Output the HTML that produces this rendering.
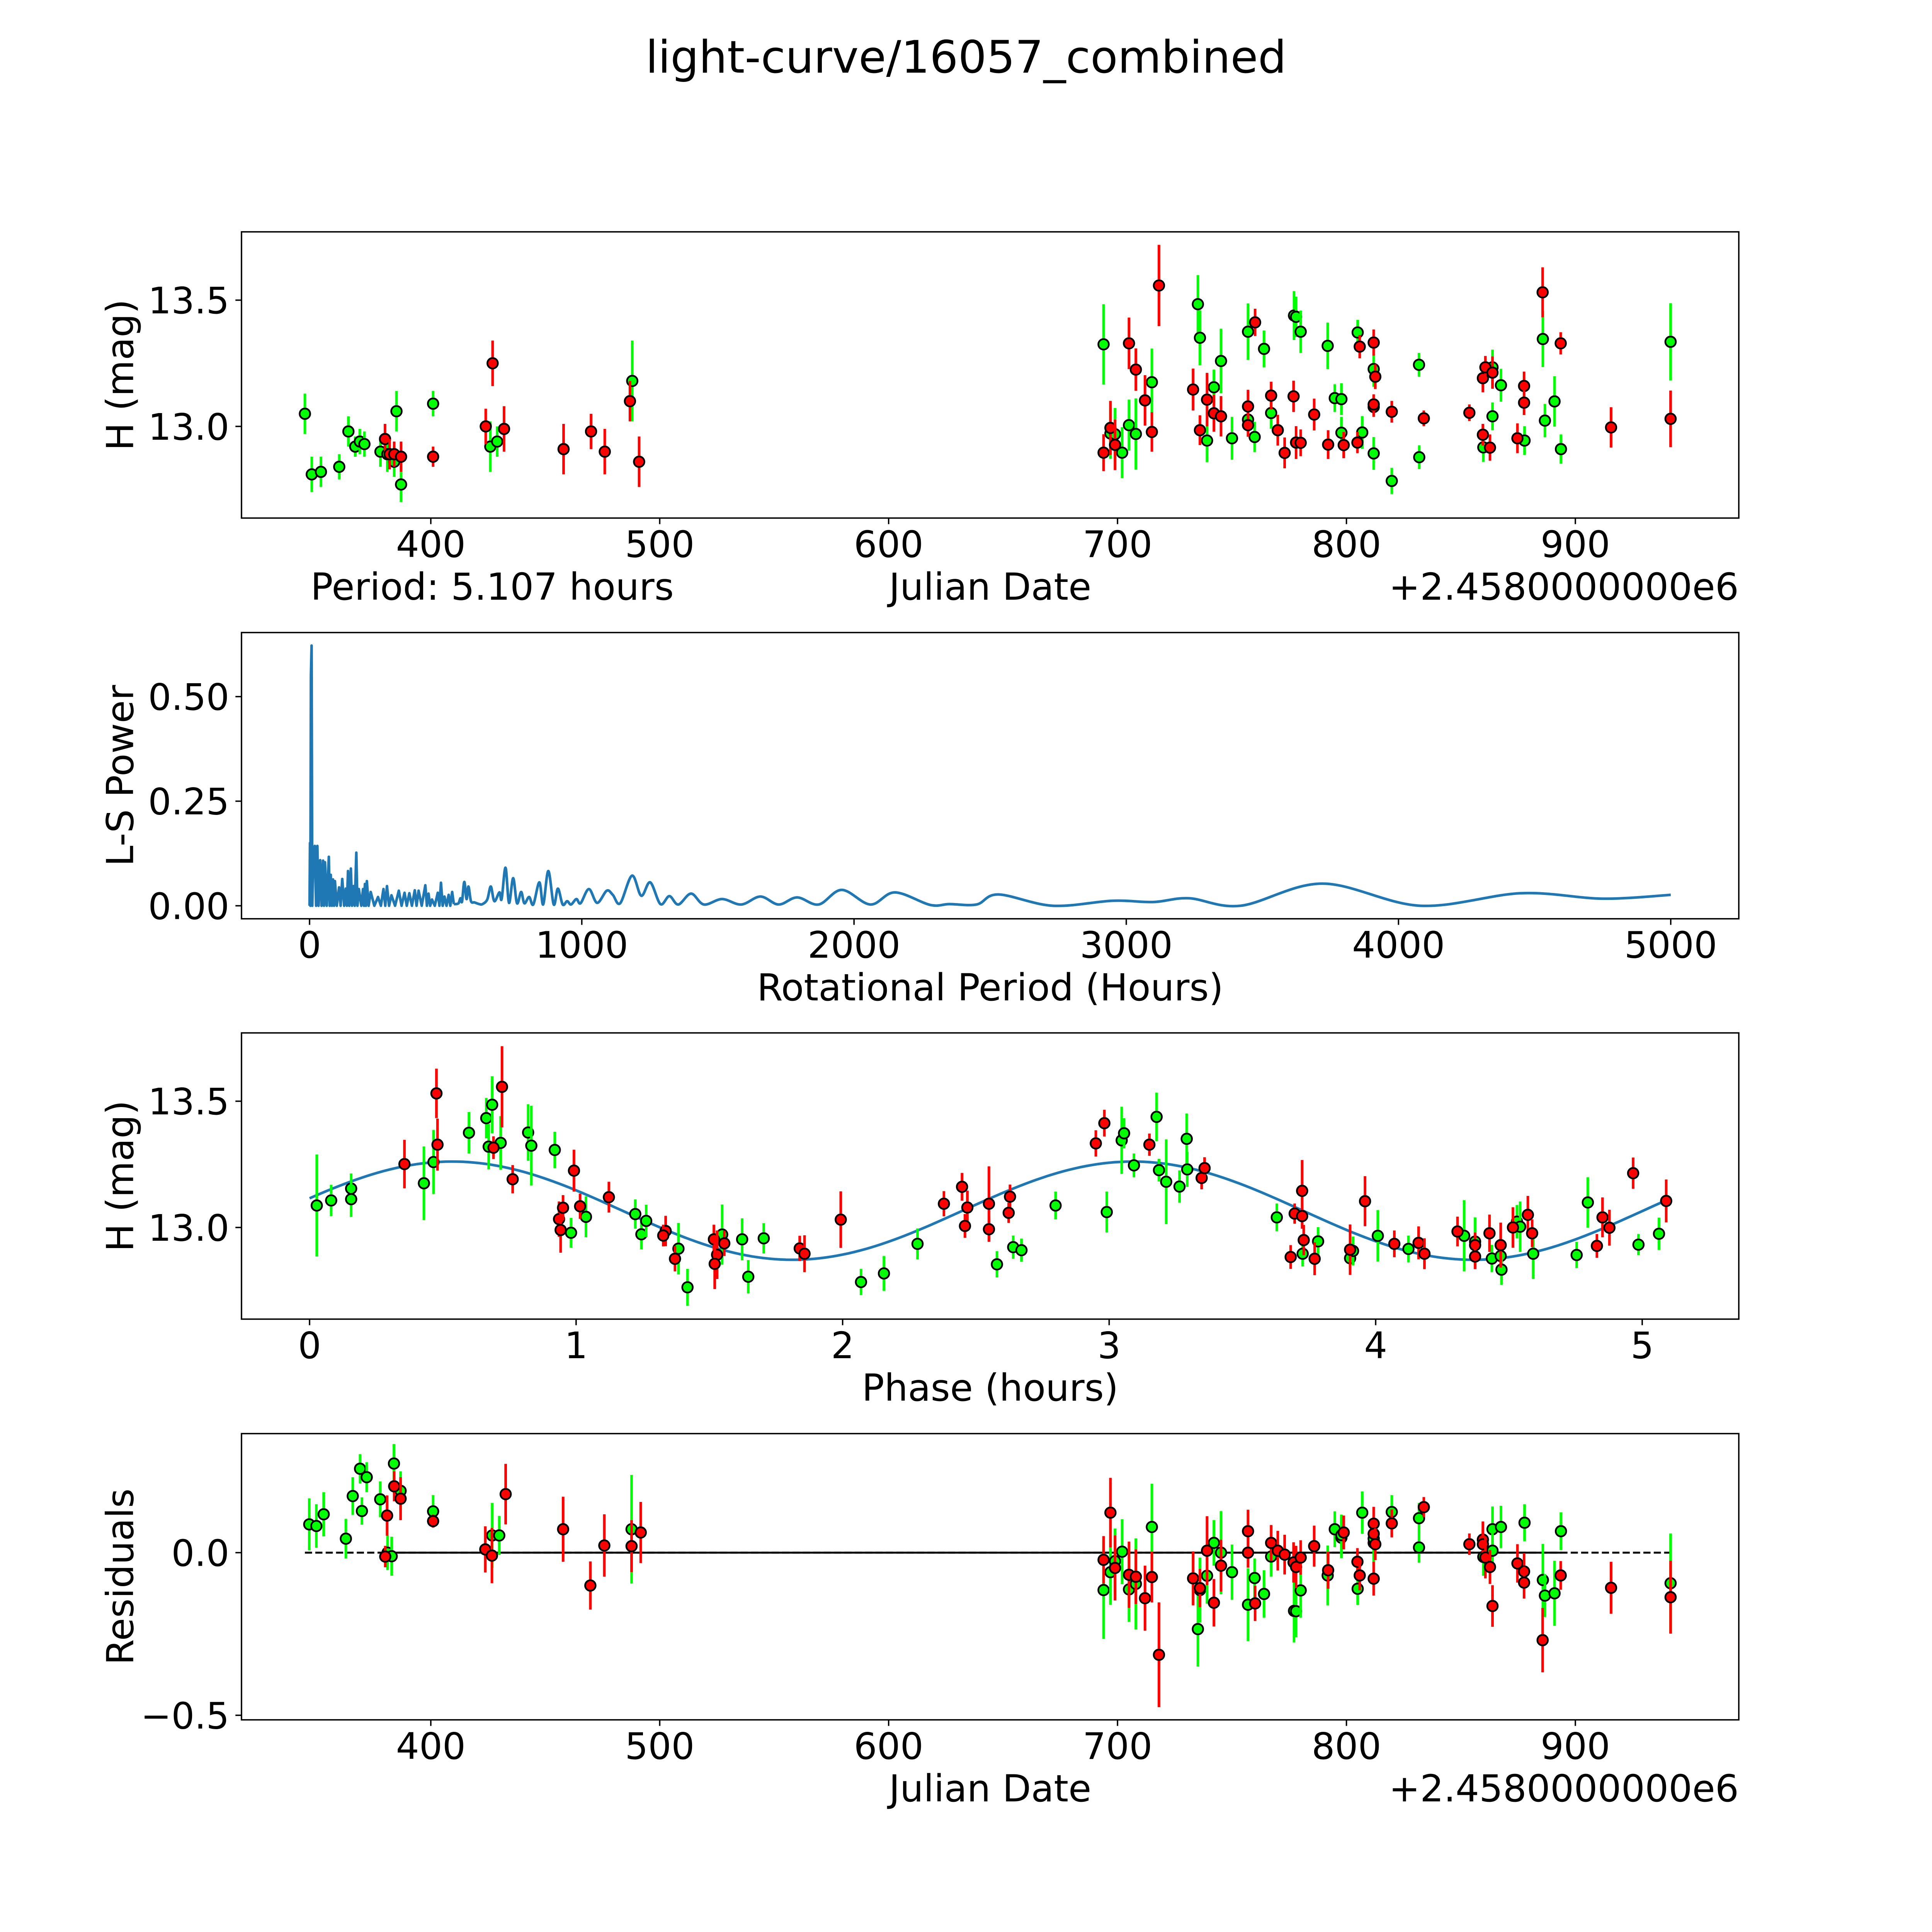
<!DOCTYPE html>
<html><head><meta charset="utf-8"><title>light-curve/16057_combined</title>
<style>html,body{margin:0;padding:0;background:#fff;overflow:hidden;width:100%;height:100%;}svg{display:block;width:100vw;height:100vh;}text{font-family:"DejaVu Sans","Liberation Sans",sans-serif;fill:#000;}</style>
</head><body>
<svg id="fig" xmlns="http://www.w3.org/2000/svg" viewBox="0 0 5400 5400" preserveAspectRatio="xMidYMid meet">
<rect x="0" y="0" width="5400" height="5400" fill="#fff"/>
<text x="2700" y="203" font-size="125" text-anchor="middle">light-curve/16057_combined</text>
</svg>
<script>
// ---------- Panel 1: light curve vs Julian Date ----------
const jdGreen = [345,348,352,360,364,367,369,371,378,381,384,385,387,401,426,429,488,693.9,696.9,698.9,702,705,708,715,735.1,736,739.1,742.1,745.2,750,757,757,759.9,764,767.1,777.1,778,780,791.8,794.9,797.8,797.8,804.9,806.9,811.9,811.9,819.8,831.7,831.8,863.8,859.8,863.8,867.5,877.8,885.8,886.7,890.9,893.7,941.6];
const magGreen = [13.05,12.81,12.82,12.84,12.98,12.92,12.94,12.93,12.90,12.89,12.86,13.06,12.77,13.09,12.92,12.94,13.18,13.325,12.972,12.969,12.896,13.005,12.970,13.175,13.484,13.351,12.944,13.155,13.259,12.953,13.375,13.027,12.958,13.307,13.053,13.439,13.434,13.375,13.319,13.112,13.108,12.975,13.372,12.976,13.227,12.893,12.784,13.244,12.878,13.234,12.917,13.040,13.163,12.944,13.346,13.023,13.099,12.910,13.335];
const errGreen = [0.08,0.07,0.06,0.05,0.06,0.04,0.05,0.05,0.06,0.07,0.06,0.08,0.07,0.05,0.1,0.06,0.16,0.159,0.1,0.104,0.101,0.101,0.141,0.133,0.115,0.109,0.086,0.07,0.128,0.085,0.112,0.05,0.06,0.073,0.062,0.097,0.08,0.084,0.092,0.055,0.063,0.063,0.05,0.065,0.07,0.065,0.052,0.047,0.047,0.07,0.058,0.055,0.065,0.057,0.111,0.066,0.1,0.058,0.153];
const jdRed = [380,382,384,387,401,424,427,432,458,470,476,487,491,693.9,696.9,698.9,705,708,712,715,718.1,733,736,739.1,742.1,745.2,757,757,760.1,767.1,770,773,776.9,778,780,785.9,792,798.8,804.8,805.8,811.9,812.6,811.9,811.9,819.8,833.8,853.7,859.6,860.7,863.8,859.6,862.7,874.7,877.6,877.6,885.7,893.6,915.6,941.6];
const magRed = [12.95,12.89,12.89,12.88,12.88,13.00,13.25,12.99,12.91,12.98,12.90,13.10,12.86,12.896,12.994,12.927,13.329,13.225,13.103,12.978,13.558,13.146,12.985,13.106,13.052,13.040,13.079,13.005,13.412,13.122,12.985,12.895,13.119,12.936,12.935,13.047,12.928,12.926,12.936,13.316,13.332,13.197,13.077,13.087,13.058,13.032,13.054,13.191,13.234,13.213,12.967,12.916,12.953,13.160,13.094,13.531,13.329,12.996,13.030];
const errRed = [0.06,0.06,0.05,0.06,0.04,0.07,0.09,0.09,0.1,0.07,0.09,0.08,0.1,0.073,0.107,0.1,0.102,0.084,0.1,0.078,0.161,0.083,0.059,0.106,0.073,0.08,0.066,0.046,0.054,0.055,0.061,0.061,0.062,0.065,0.053,0.063,0.057,0.052,0.042,0.046,0.052,0.049,0.039,0.04,0.043,0.031,0.033,0.056,0.045,0.064,0.043,0.052,0.059,0.057,0.049,0.099,0.044,0.08,0.112];
const jdTicks = [400,500,600,700,800,900];
const magTicks = [13.0,13.5];
const magTickLabels = ["13.0","13.5"];

// ---------- Panel 2: Lomb-Scargle periodogram ----------
const lsDensePeriod = [0,1.6,3,5,7.5,10,14,19.2,24,28.6,33,39.1,44,49.7,53,56.8,63,70.8,74,77.9,82,86.1,90,93.1,100,108.4,114,120.1,127,133,137,141.2,146,151.8,156,161.2,166,171.7,176,181.1,190,196.4,200,203.4,207,210.5,217,224.5,238,251.5,262,271.5,278,284.4,292,300.8,314,327.8,338,348.9,357,366.5,376,386.5,393,400.6,412,425.2,431,437,443,449.8,460,471,477,482.7,489,495.6,503,510.9,517,523.8,530];
const lsDensePower = [0,0.15,0,0.55,0.622,0,0.13,0.143,0,0.143,0,0.109,0,0.108,0,0.104,0,0.117,0,0.074,0,0.063,0,0.059,0,0.044,0,0.064,0,0.041,0,0.083,0,0.089,0,0.047,0,0.127,0,0.040,0,0.040,0,0.052,0,0.059,0,0.033,0,0.021,0,0.040,0,0.047,0,0.025,0,0.036,0,0.031,0,0.030,0,0.037,0,0.036,0,0.049,0,0.029,0,0.015,0,0.031,0,0.055,0,0.022,0,0.026,0,0.033,0.004];
const lsSmoothPeriod = [535.5,547.2,554.3,560.1,568.4,576.6,583.6,593,605.9,623.5,635.2,652.8,665.7,678.7,697.4,705.6,719.7,732.6,747.9,762,777.2,789,806.6,821.8,844.1,858.2,877,896.9,912.2,929.8,946.2,960.3,980.2,995.5,1026,1056.5,1091.7,1114,1141,1184.4,1218.4,1251.3,1288.8,1321.7,1354.5,1401.5,1448.4,1515.3,1585.7,1656.1,1723,1791,1870,1955,2060,2150,2280,2350,2450,2530,2730,2950,3100,3230,3420,3720,4080,4450,4750,5000];
const lsSmoothPower = [0.004,0.006,0.018,0.010,0.057,0.016,0.046,0.011,0.008,0.004,0.004,0.015,0.046,0.011,0.032,0.016,0.091,0.007,0.066,0.006,0.033,0.006,0.021,0.003,0.056,0.003,0.083,0.003,0.041,0.003,0.011,0.003,0.016,0.006,0.040,0.007,0.036,0.026,0.006,0.072,0.024,0.056,0.004,0.023,0.003,0.029,0.003,0.016,0.003,0.022,0.003,0.020,0.003,0.038,0.003,0.032,0.002,0.004,0.003,0.027,0.0,0.012,0.009,0.018,0.0,0.053,0.0,0.030,0.017,0.026];
const lsXTicks = [0,1000,2000,3000,4000,5000];
const lsYTicks = [0.00,0.25,0.50];
const lsYTickLabels = ["0.00","0.25","0.50"];

// ---------- Panel 3: phased light curve ----------
const phaseGreen = [0.027,0.081,0.156,0.156,0.429,0.465,0.598,0.663,0.672,0.685,0.717,0.82,0.832,0.92,0.981,1.037,1.222,1.245,1.263,1.384,1.418,1.548,1.623,1.646,1.704,2.069,2.155,2.281,2.579,2.64,2.671,2.799,2.991,3.047,3.056,3.093,3.178,3.187,3.214,3.264,3.291,3.293,3.629,3.726,3.784,3.904,3.915,4.008,4.123,4.332,4.373,4.436,4.469,4.472,4.53,4.542,4.591,4.754,4.796,4.986,5.063];
const phMagGreen = [13.087,13.107,13.154,13.112,13.175,13.259,13.375,13.433,13.320,13.486,13.335,13.376,13.324,13.307,12.979,13.042,13.053,12.973,13.026,12.916,12.763,12.972,12.953,12.805,12.957,12.784,12.818,12.935,12.854,12.922,12.910,13.087,13.061,13.345,13.373,13.246,13.438,13.227,13.181,13.162,13.351,13.23,13.040,12.896,12.945,12.878,12.907,12.967,12.915,12.967,12.944,12.877,12.887,12.833,13.023,13.003,12.896,12.891,13.099,12.932,12.975];
const phErrGreen = [0.202,0.062,0.06,0.07,0.146,0.127,0.082,0.08,0.09,0.113,0.106,0.112,0.158,0.072,0.059,0.081,0.058,0.06,0.064,0.102,0.073,0.119,0.083,0.066,0.06,0.052,0.069,0.061,0.052,0.046,0.046,0.055,0.081,0.133,0.06,0.047,0.096,0.045,0.168,0.064,0.1,0.069,0.055,0.05,0.056,0.04,0.057,0.102,0.053,0.141,0.096,0.054,0.06,0.06,0.066,0.1,0.1,0.052,0.1,0.042,0.064];
const phaseRed = [0.356,0.476,0.48,0.69,0.722,0.762,0.936,0.942,0.951,0.992,1.015,1.123,1.336,1.327,1.371,1.517,1.529,1.520,1.556,1.839,1.857,1.993,2.38,2.448,2.468,2.459,2.549,2.549,2.628,2.623,2.95,2.982,3.151,3.347,3.358,3.724,3.696,3.724,3.73,3.681,3.771,3.904,3.96,4.07,4.161,4.183,4.307,4.373,4.373,4.427,4.469,4.515,4.571,4.587,4.83,4.851,4.877,4.966,5.09];
const phMagRed = [13.251,13.531,13.328,13.316,13.557,13.191,13.033,12.990,13.078,13.225,13.084,13.120,12.986,12.968,12.876,12.953,12.892,12.856,12.937,12.917,12.896,13.031,13.094,13.161,13.079,13.006,13.094,12.993,13.122,13.058,13.333,13.413,13.328,13.196,13.235,13.145,13.055,13.045,12.950,12.883,12.876,12.912,13.104,12.935,12.939,12.896,12.984,12.93,12.885,12.977,12.93,13.0,13.05,12.977,12.927,13.040,12.999,13.215,13.105];
const phErrRed = [0.096,0.098,0.103,0.045,0.161,0.056,0.07,0.09,0.05,0.083,0.05,0.061,0.06,0.043,0.05,0.058,0.096,0.1,0.05,0.05,0.073,0.112,0.05,0.055,0.067,0.047,0.148,0.05,0.048,0.04,0.052,0.053,0.044,0.045,0.043,0.122,0.04,0.05,0.06,0.047,0.065,0.1,0.099,0.053,0.065,0.061,0.059,0.05,0.05,0.074,0.089,0.08,0.075,0.055,0.047,0.079,0.071,0.062,0.085];
const fitParams = [13.0665, 0.1945, 0.535, 2.5535, 5.107]; // mean, amplitude, peak phase, half-period, period (hours)
const phXTicks = [0,1,2,3,4,5];

// ---------- Panel 4: residuals vs Julian Date ----------
const resJdGreen = [346.9,350,353.2,362.9,365.9,369.1,369.9,372,377.9,381.1,382.9,383.9,386.8,401,426.8,429.9,487.7,693.9,696.9,698.9,702,705,708,715,735.1,736,739.1,742.1,745.2,750,757,759.9,764,767.1,777.1,778,780,791.8,794.9,797.8,797.8,804.9,806.9,811.9,811.9,819.8,831.7,831.7,859.8,863.8,863.8,867.5,877.8,885.8,886.7,890.9,893.7,941.6];
const resGreen = [0.087,0.082,0.118,0.043,0.174,0.258,0.128,0.232,0.164,0.0,-0.011,0.274,0.19,0.127,0.053,0.053,0.072,-0.115,-0.06,-0.026,0.003,-0.113,-0.096,0.079,-0.235,-0.115,-0.071,0.03,0.0,-0.06,-0.16,-0.078,-0.127,-0.012,-0.179,-0.18,-0.116,-0.07,0.072,0.046,0.054,-0.111,0.123,0.03,0.043,0.125,0.106,0.016,-0.013,0.072,0.006,0.079,0.092,-0.084,-0.132,-0.125,0.066,-0.094];
const resErrGreen = [0.08,0.067,0.068,0.061,0.058,0.045,0.042,0.046,0.055,0.053,0.06,0.06,0.06,0.05,0.1,0.06,0.167,0.15,0.1,0.1,0.1,0.1,0.14,0.133,0.115,0.1,0.086,0.07,0.128,0.085,0.112,0.06,0.073,0.062,0.097,0.08,0.084,0.092,0.055,0.063,0.063,0.05,0.065,0.07,0.065,0.052,0.047,0.047,0.058,0.07,0.055,0.065,0.057,0.111,0.066,0.1,0.058,0.153];
const resJdRed = [380.1,380.9,384,386.8,401,423.8,426.7,432.7,457.8,469.7,475.8,487.7,491.7,693.9,696.9,698.9,705,708,712,715,718.1,733,736,739.1,742.1,745.2,757,757,760.1,767.1,770,773,776.9,778,780,785.9,792,798.8,804.8,805.8,811.9,811.9,812.6,811.9,819.8,833.8,853.7,859.6,859.6,860.7,862.7,863.8,874.7,877.6,877.6,885.7,893.6,915.6,941.6];
const resRed = [-0.012,0.114,0.204,0.166,0.097,0.01,-0.009,0.18,0.072,-0.101,0.022,0.02,0.062,-0.022,0.123,-0.047,-0.068,-0.074,-0.14,-0.075,-0.314,-0.079,-0.109,0.006,-0.154,-0.04,0.066,0.0,-0.156,0.03,0.006,-0.006,-0.03,-0.044,-0.015,0.02,-0.054,0.062,-0.028,-0.07,0.089,0.058,0.026,-0.08,0.09,0.14,0.026,0.04,0.026,-0.015,-0.044,-0.164,-0.033,-0.058,-0.092,-0.269,-0.07,-0.108,-0.137];
const resErrRed = [0.033,0.062,0.046,0.066,0.02,0.071,0.085,0.093,0.1,0.074,0.096,0.08,0.094,0.073,0.107,0.1,0.102,0.084,0.1,0.078,0.161,0.083,0.059,0.106,0.073,0.08,0.066,0.046,0.054,0.055,0.061,0.061,0.062,0.065,0.053,0.063,0.057,0.052,0.042,0.046,0.052,0.04,0.049,0.052,0.043,0.031,0.033,0.056,0.045,0.064,0.052,0.064,0.059,0.057,0.049,0.099,0.044,0.08,0.112];
const resZeroDashed = [345, 942];
const resZeroSolid = [378.7, 894];
const resYTicks = [-0.5, 0.0];
const resYTickLabels = ["\u22120.5","0.0"];

// ---------- rendering ----------
const NS = "http://www.w3.org/2000/svg";
const svg = document.getElementById("fig");
const AX_L = 675, AX_R = 4860, AX_H = 800;
const TICK_FS = 102, LABEL_FS = 104;
function mk(tag, attrs, parent) {
  const el = document.createElementNS(NS, tag);
  for (const k in attrs) el.setAttribute(k, attrs[k]);
  parent.appendChild(el);
  return el;
}
function makeScale(d0, d1, r0, r1) { return v => r0 + (v - d0) / (d1 - d0) * (r1 - r0); }

function makePanel(name, top, xlim, ylim) {
  const g = mk("g", {}, svg);
  
  
  const sx = makeScale(xlim[0], xlim[1], AX_L, AX_R);
  const sy = makeScale(ylim[0], ylim[1], top + AX_H, top);
  const cp = mk("clipPath", {id: name + "-clip"}, g);
  mk("rect", {x: AX_L, y: top, width: AX_R - AX_L, height: AX_H}, cp);
  const plot = mk("g", {"clip-path": "url(#" + name + "-clip)"}, g);
  
  
  return {g, plot, sx, sy, top};
}
function frame(p) {
  const r = mk("rect", {x: AX_L, y: p.top, width: AX_R - AX_L, height: AX_H, fill: "none", stroke: "#000", "stroke-width": 3.9}, p.g);
  
  
}
function xTicks(p, ticks, labels) {
  const bottom = p.top + AX_H;
  ticks.forEach((t, i) => {
    const x = p.sx(t);
    const l = mk("line", {x1: x, x2: x, y1: bottom, y2: bottom + 17, stroke: "#000", "stroke-width": 3.9}, p.g);
    
    
    const tx = mk("text", {x: x, y: bottom + 109, "font-size": TICK_FS, "text-anchor": "middle"}, p.g);
    tx.textContent = labels ? labels[i] : String(t);
    
    
  });
}
function yTicks(p, ticks, labels) {
  ticks.forEach((t, i) => {
    const y = p.sy(t);
    const l = mk("line", {x1: AX_L - 17, x2: AX_L, y1: y, y2: y, stroke: "#000", "stroke-width": 3.9}, p.g);
    
    
    const tx = mk("text", {x: AX_L - 34, y: y + 37, "font-size": TICK_FS, "text-anchor": "end"}, p.g);
    tx.textContent = labels[i];
    
    
  });
}
function xLabel(p, text, name) {
  const t = mk("text", {x: (AX_L + AX_R) / 2, y: p.top + AX_H + 228, "font-size": LABEL_FS, "text-anchor": "middle"}, p.g);
  t.textContent = text;
  
  
}
function yLabel(p, text, name) {
  const cy = p.top + AX_H / 2;
  const t = mk("text", {x: 372, y: cy, "font-size": LABEL_FS, "text-anchor": "middle", transform: "rotate(-90 372 " + cy + ")"}, p.g);
  t.textContent = text;
  
  
}
function offsetText(p) {
  const t = mk("text", {x: AX_R, y: p.top + AX_H + 228, "font-size": LABEL_FS, "text-anchor": "end"}, p.g);
  t.textContent = "+2.4580000000e6";
  
  
}
function errPoints(p, xs, ys, es, color, name) {
  const g = mk("g", {}, p.plot);
  
  
  for (let i = 0; i < xs.length; i++) {
    const x = p.sx(xs[i]);
    const bar = mk("line", {x1: x, x2: x, y1: p.sy(ys[i] - es[i]), y2: p.sy(ys[i] + es[i]), stroke: color, "stroke-width": 7.3}, g);
    
    
    const c = mk("circle", {cx: x, cy: p.sy(ys[i]), r: 14.6, fill: color, stroke: "#000", "stroke-width": 4.9}, g);
    
    
  }
}
function catmull(pts) {
  let d = "M" + pts[0][0].toFixed(1) + "," + pts[0][1].toFixed(1);
  for (let i = 0; i < pts.length - 1; i++) {
    const p0 = pts[Math.max(0, i - 1)], p1 = pts[i], p2 = pts[i + 1], p3 = pts[Math.min(pts.length - 1, i + 2)];
    const c1x = p1[0] + (p2[0] - p0[0]) / 6, c1y = p1[1] + (p2[1] - p0[1]) / 6;
    const c2x = p2[0] - (p3[0] - p1[0]) / 6, c2y = p2[1] - (p3[1] - p1[1]) / 6;
    d += "C" + c1x.toFixed(1) + "," + c1y.toFixed(1) + " " + c2x.toFixed(1) + "," + c2y.toFixed(1) + " " + p2[0].toFixed(1) + "," + p2[1].toFixed(1);
  }
  return d;
}

// Panel 1
const p1 = makePanel("light-curve-panel", 648, [317.3, 971.4], [12.637, 13.7705]);
errPoints(p1, jdGreen, magGreen, errGreen, "#00ff00", "green-band-points");
errPoints(p1, jdRed, magRed, errRed, "#ff0000", "red-band-points");
frame(p1);
xTicks(p1, jdTicks);
yTicks(p1, magTicks, magTickLabels);
xLabel(p1, "Julian Date", "x-axis-title");
yLabel(p1, "H (mag)", "y-axis-title");
offsetText(p1);
const per = mk("text", {x: 868, y: p1.top + AX_H + 228, "font-size": LABEL_FS}, p1.g);
per.textContent = "Period: 5.107 hours";



// Panel 2
const p2 = makePanel("periodogram-panel", 1768, [-250, 5250], [-0.0311, 0.6531]);
let dDense = "";
for (let i = 0; i < lsDensePeriod.length; i++) {
  dDense += (i === 0 ? "M" : "L") + p2.sx(lsDensePeriod[i]).toFixed(1) + "," + p2.sy(lsDensePower[i]).toFixed(1);
}
const dense = mk("path", {d: dDense, fill: "none", stroke: "#1f77b4", "stroke-width": 7.3, "stroke-linejoin": "round"}, p2.plot);


const smoothPts = lsSmoothPeriod.map((v, i) => [p2.sx(v), p2.sy(lsSmoothPower[i])]);
const lastDense = [p2.sx(lsDensePeriod[lsDensePeriod.length - 1]), p2.sy(lsDensePower[lsDensePower.length - 1])];
const smooth = mk("path", {d: catmull([lastDense].concat(smoothPts)), fill: "none", stroke: "#1f77b4", "stroke-width": 7.3, "stroke-linejoin": "round"}, p2.plot);


frame(p2);
xTicks(p2, lsXTicks);
yTicks(p2, lsYTicks, lsYTickLabels);
xLabel(p2, "Rotational Period (Hours)", "x-axis-title");
yLabel(p2, "L-S Power", "y-axis-title");

// Panel 3
const p3 = makePanel("phased-curve-panel", 2887, [-0.2554, 5.3624], [12.637, 13.7705]);
const fitPts = [];
for (let k = 0; k <= 240; k++) {
  const ph = fitParams[4] * k / 240;
  const m = fitParams[0] + fitParams[1] * Math.cos(2 * Math.PI * (ph - fitParams[2]) / fitParams[3]);
  fitPts.push((k === 0 ? "M" : "L") + p3.sx(ph).toFixed(1) + "," + p3.sy(m).toFixed(1));
}
const fit = mk("path", {d: fitPts.join(""), fill: "none", stroke: "#1f77b4", "stroke-width": 7.3}, p3.plot);


errPoints(p3, phaseGreen, phMagGreen, phErrGreen, "#00ff00", "green-band-phased-points");
errPoints(p3, phaseRed, phMagRed, phErrRed, "#ff0000", "red-band-phased-points");
frame(p3);
xTicks(p3, phXTicks);
yTicks(p3, magTicks, magTickLabels);
xLabel(p3, "Phase (hours)", "x-axis-title");
yLabel(p3, "H (mag)", "y-axis-title");

// Panel 4
const p4 = makePanel("residuals-panel", 4007, [317.3, 971.4], [-0.514, 0.366]);
const zd = mk("line", {x1: p4.sx(resZeroDashed[0]), x2: p4.sx(resZeroDashed[1]), y1: p4.sy(0), y2: p4.sy(0), stroke: "#000", "stroke-width": 5.5, "stroke-dasharray": "20 9"}, p4.plot);


const zs = mk("line", {x1: p4.sx(resZeroSolid[0]), x2: p4.sx(resZeroSolid[1]), y1: p4.sy(0), y2: p4.sy(0), stroke: "#000", "stroke-width": 5.5}, p4.plot);


errPoints(p4, resJdGreen, resGreen, resErrGreen, "#00ff00", "green-band-residuals");
errPoints(p4, resJdRed, resRed, resErrRed, "#ff0000", "red-band-residuals");
frame(p4);
xTicks(p4, jdTicks);
yTicks(p4, resYTicks, resYTickLabels);
xLabel(p4, "Julian Date", "x-axis-title");
yLabel(p4, "Residuals", "y-axis-title");
offsetText(p4);
</script>
</body></html>
